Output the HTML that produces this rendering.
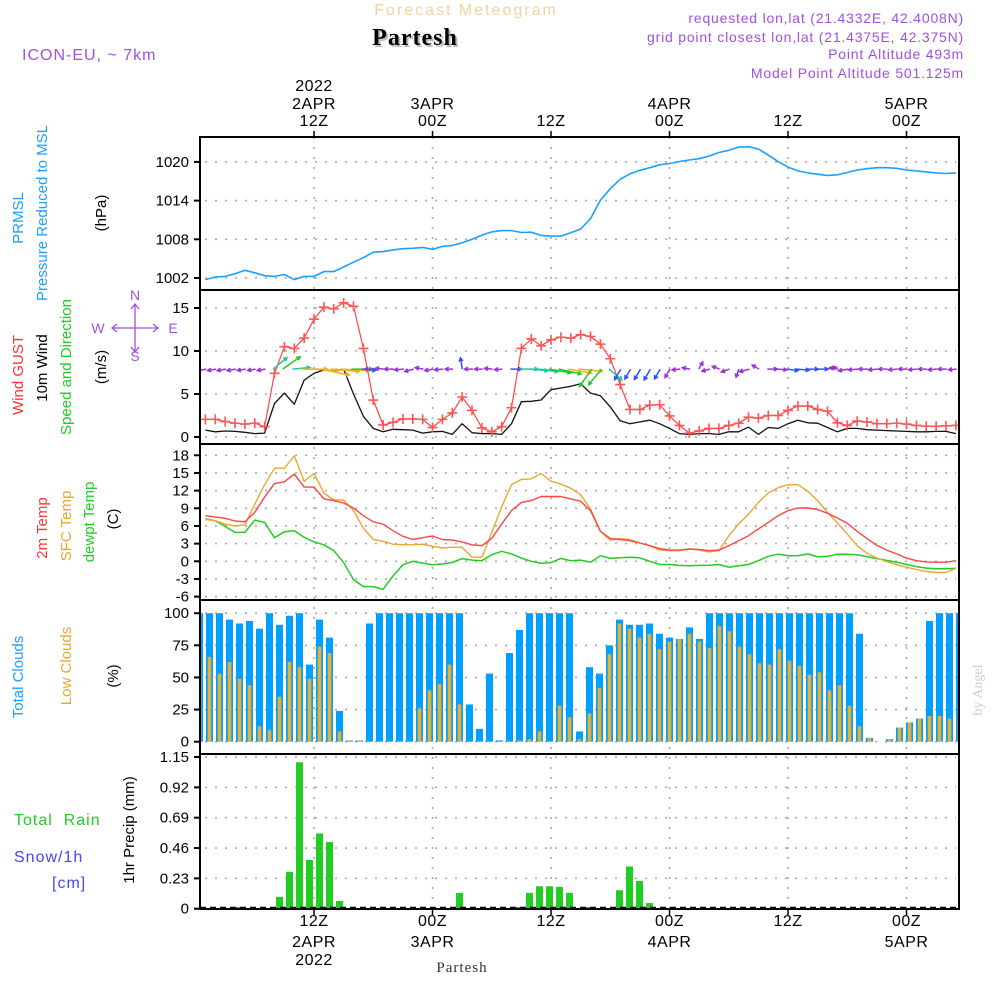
<!DOCTYPE html>
<html><head><meta charset="utf-8"><title>Forecast Meteogram - Partesh</title>
<style>
html,body{margin:0;padding:0;background:#fff;}
svg{display:block;font-family:"Liberation Sans",sans-serif;}
.pre{white-space:pre;}
</style></head>
<body>
<svg id="chart" width="1000" height="1000" viewBox="0 0 1000 1000" xmlns="http://www.w3.org/2000/svg">
<rect width="1000" height="1000" fill="#fff"/>
<text x="466" y="15" text-anchor="middle" font-size="16" fill="#f3d2a0" letter-spacing="2">Forecast Meteogram</text>
<text x="417" y="47" text-anchor="middle" font-family="Liberation Serif,serif" font-weight="bold" font-size="24" fill="#bbb" letter-spacing="1">Partesh</text>
<text x="415" y="45" text-anchor="middle" font-family="Liberation Serif,serif" font-weight="bold" font-size="24" fill="#000" letter-spacing="1">Partesh</text>
<text x="22" y="60" font-size="16" fill="#a050e0" letter-spacing="1">ICON-EU, ~ 7km</text>
<g fill="#a050e0" font-size="14" text-anchor="end" letter-spacing="0.8">
<text x="964" y="23">requested lon,lat (21.4332E, 42.4008N)</text>
<text x="964" y="42">grid point closest lon,lat (21.4375E, 42.375N)</text>
<text x="964" y="59">Point Altitude 493m</text>
<text x="964" y="78">Model Point Altitude 501.125m</text>
</g>
<text transform="translate(982,690) rotate(-90)" text-anchor="middle" font-family="Liberation Serif,serif" font-size="14" fill="#ccc">by Angel</text>
<g fill="#a050e0" stroke="none" font-size="14" text-anchor="middle">
<text x="135" y="300">N</text>
<text x="135" y="361">S</text>
<text x="98" y="333">W</text>
<text x="173" y="333">E</text>
<path d="M135,304V352M112,328H158M131,309L135,304L139,309M131,347L135,352L139,347M117,324L112,328L117,332M153,324L158,328L153,332" stroke="#a050e0" stroke-width="1.3" fill="none" stroke-dasharray="none"/>
</g>
<g id="grid"></g>
<g id="marks"></g>
<g id="frames"></g>
<g id="labels"></g>
</svg>
<script>
// ---------- data (hourly, index 0 = 01Z 2APR) ----------
const topTimeLabels = [["2022","2APR","12Z"],["","3APR","00Z"],["","","12Z"],["","4APR","00Z"],["","","12Z"],["","5APR","00Z"]];
const bottomTimeLabels = [["12Z","2APR","2022"],["00Z","3APR",""],["12Z","",""],["00Z","4APR",""],["12Z","",""],["00Z","5APR",""]];
const timeLineHours = [11,23,35,47,59,71];
const pressureTicks = [1002,1008,1014,1020];
const windTicks = [0,5,10,15];
const tempTicks = [18,15,12,9,6,3,0,-3,-6];
const cloudTicks = [0,25,50,75,100];
const precipTicks = [0,0.23,0.46,0.69,0.92,1.15];
const precipTickLabels = ["0","0.23","0.46","0.69","0.92","1.15"];

const pressure = [1001.75,1002.15,1002.25,1002.65,1003.2,1002.8,1002.35,1002.25,1002.55,1001.75,1002.25,1002.25,1003.0,1003.0,1003.7,1004.45,1005.15,1006.0,1006.1,1006.35,1006.55,1006.6,1006.75,1006.45,1006.9,1007.05,1007.45,1008.0,1008.65,1009.15,1009.35,1009.35,1009.05,1009.1,1008.6,1008.5,1008.5,1009.0,1009.6,1011.2,1014.05,1015.85,1017.3,1018.15,1018.7,1019.1,1019.55,1019.75,1020.05,1020.3,1020.5,1020.9,1021.45,1021.8,1022.3,1022.35,1022.0,1021.05,1020.05,1019.2,1018.6,1018.3,1018.1,1017.9,1018.0,1018.35,1018.75,1018.95,1019.1,1019.1,1019.0,1018.75,1018.6,1018.45,1018.3,1018.2,1018.3];
const windGust = [2.05,2.05,1.8,1.6,1.5,1.6,1.2,7.4,10.5,10.3,11.5,13.7,15.1,14.9,15.6,15.2,10.3,4.3,1.4,1.7,2.1,2.1,2.05,1.1,2.05,2.8,4.65,3.1,1.05,0.6,1.2,3.4,10.3,11.4,10.6,11.3,11.6,11.5,11.9,11.7,10.8,9.1,6.1,3.2,3.2,3.7,3.75,2.45,1.35,0.45,0.7,1.0,1.0,1.35,1.6,2.3,2.2,2.5,2.5,3.1,3.6,3.6,3.2,3.0,1.65,1.35,1.85,1.75,1.55,1.55,1.6,1.5,1.35,1.25,1.25,1.3,1.35];
const windSpeed = [0.8,0.6,0.7,0.65,0.55,0.4,0.45,3.9,5.1,3.8,6.6,7.4,7.8,7.7,7.9,5.0,2.4,1.0,0.6,0.9,0.85,0.8,0.45,0.6,0.65,0.3,1.55,0.5,0.4,0.4,0.3,1.55,4.1,4.15,4.3,5.5,5.7,5.9,6.2,5.1,4.8,3.5,1.9,1.55,1.75,1.95,1.55,1.0,0.4,0.3,0.4,0.4,0.3,0.6,0.6,1.15,0.3,1.1,1.0,1.55,1.95,1.65,1.6,1.1,0.6,1.0,1.0,0.85,0.8,0.75,0.7,0.65,0.6,0.6,0.65,0.65,0.4];
const windDirTo = [190,190,190,190,190,190,190,40,35,5,0,-3,-12,-5,-3,0,-5,180,175,180,185,195,170,190,185,180,100,180,180,175,185,0,0,-5,-8,-10,-12,-10,-5,-125,-130,-40,-120,-120,-120,-120,-120,-120,185,170,60,195,160,200,250,195,150,0,-5,-8,-5,0,0,10,170,190,185,180,185,180,185,180,185,180,185,180,185];
const temp2m = [7.75,7.5,7.3,6.85,6.7,8.3,10.9,13.2,13.5,14.8,12.6,12.6,10.6,10.3,9.9,9.05,7.75,6.7,6.3,5.2,4.25,3.7,4.0,4.3,3.7,3.6,3.3,2.8,2.65,3.9,6.3,8.6,10.0,10.3,11.0,11.0,11.0,10.6,10.2,8.6,5.1,3.85,3.7,3.5,3.1,2.65,2.15,1.9,1.9,2.1,2.0,1.8,1.9,2.65,3.5,4.35,5.5,6.6,7.75,8.6,9.05,9.05,8.8,8.15,7.35,6.45,5.1,3.85,2.7,1.9,1.25,0.55,0.1,-0.1,-0.15,-0.15,0.1];
const tempSfc = [7.1,6.9,6.3,6.0,6.2,9.7,13.0,15.8,15.8,17.9,13.6,14.9,11.6,10.4,10.4,8.6,5.6,3.7,3.4,2.9,2.8,2.8,2.9,2.55,2.25,2.4,2.4,0.7,0.7,4.9,9.2,13.0,13.9,14.0,14.9,13.6,13.1,12.4,11.3,8.9,5.1,3.6,3.85,3.7,3.1,2.65,1.9,1.8,1.8,2.1,1.9,1.6,1.8,4.35,6.35,8.0,10.0,11.6,12.5,13.0,13.0,11.9,10.3,8.3,6.5,4.65,2.65,1.35,0.55,-0.05,-0.6,-1.0,-1.4,-1.75,-1.9,-1.9,-1.2];
const dewpoint = [7.2,6.9,5.9,4.9,4.9,7.0,6.6,4.0,5.0,5.2,4.1,3.3,2.8,1.8,-0.2,-3.1,-4.3,-4.3,-4.75,-2.5,-0.6,0,-0.3,-0.6,-0.45,-0.2,0.45,0.2,0.1,1.1,1.7,1.25,0.55,0,-0.35,-0.2,0.5,0.1,0.2,-0.15,0.95,0.5,0.6,0.7,0.6,0,-0.55,-0.55,-0.7,-0.75,-0.7,-0.7,-0.55,-1.0,-0.75,-0.55,0.1,0.85,1.2,0.95,0.95,1.25,0.75,0.85,1.2,1.2,1.1,0.8,0.45,0.15,-0.15,-0.55,-0.9,-1.15,-1.25,-1.25,-1.2];
const totalClouds = [100,100,100,95,92,94,88,100,91,98,100,60,95,81,24,1,1,92,100,100,100,100,100,100,100,100,100,29,10,53,1,69,87,100,100,100,100,100,8,58,53,75,95,91,91,92,84,81,80,89,80,100,100,100,100,100,100,100,100,100,100,100,100,100,100,100,84,3,0,2,11,15,18,94,100,100,100];
const lowClouds = [61,66,53,62,49,44,12,9,35,62,58,49,74,69,8,1,1,0,0,0,0,0,26,40,45,60,29,0,0,0,0,0,1,2,8,0,28,19,2,22,42,68,92,88,81,84,72,78,80,84,78,73,90,86,74,68,61,60,72,63,59,52,54,40,44,28,12,3,0,2,11,15,18,20,20,18,17];
const precip = [0,0,0,0,0.013,0,0,0,0.09,0.28,1.11,0.37,0.57,0.505,0.058,0,0,0,0,0,0,0,0,0,0,0,0.12,0,0,0,0,0,0.013,0.12,0.17,0.17,0.165,0.12,0,0.013,0,0,0.14,0.32,0.21,0.043,0,0,0,0,0,0,0,0,0,0,0,0,0,0,0,0,0,0,0,0,0,0,0,0,0,0,0,0,0,0,0];

// ---------- scales ----------
const X0=200, X1=959;
const xL = i => 205.4 + 9.875*i;
const xB = i => 199.5 + 10*i;
const yP = v => 278 - (v-1002)*6.45;
const yW = v => 437 - v*8.6;
const yT = v => 561.3 - v*5.89;
const yC = v => 741.7 - v*1.285;
const yR = v => 908.7 - v*131.9;

const NS="http://www.w3.org/2000/svg";
function mk(tag, attrs, parent, txt){
  const e=document.createElementNS(NS,tag);
  for(const k in attrs) e.setAttribute(k,attrs[k]);
  if(txt!==undefined) e.textContent=txt;
  parent.appendChild(e); return e;
}
const grid=document.getElementById('grid'), marks=document.getElementById('marks'),
      frames=document.getElementById('frames'), labels=document.getElementById('labels');

const defs=mk('defs',{},document.getElementById('chart'));
const cp=mk('clipPath',{id:'plotclip'},defs);
mk('rect',{x:X0,y:130,width:X1-X0,height:790},cp);
marks.setAttribute('clip-path','url(#plotclip)');

// ---------- grid ----------
const dash={stroke:'#a8a8a8','stroke-width':1.6,'stroke-dasharray':'2,8',fill:'none'};
timeLineHours.forEach(h=>{
  const x=xL(h);
  const gl=mk('line',Object.assign({x1:x,x2:x,y1:137,y2:909},dash),grid);
  
  
});
function hgrid(vals, yf, name){
  vals.forEach(v=>{
    const l=mk('line',Object.assign({x1:X0+5,x2:X1-3,y1:yf(v),y2:yf(v)},dash),grid);
    
    
  });
}
hgrid(pressureTicks,yP,'pressure-gridline');
hgrid(windTicks,yW,'wind-gridline');
hgrid(tempTicks,yT,'temp-gridline');
hgrid(cloudTicks,yC,'cloud-gridline');
hgrid(precipTicks.slice(1),yR,'precip-gridline');

// ---------- y tick labels ----------
function yticks(vals, yf, name, texts){
  vals.forEach((v,k)=>{
    const y=yf(v);
    const tk=mk('line',{x1:194,x2:200,y1:y,y2:y,stroke:'#000','stroke-width':2},frames);
    
    
    const t=mk('text',{x:189,y:y+5,'text-anchor':'end','font-size':15,fill:'#000'},labels,texts?texts[k]:String(v));
    
    
  });
}
yticks(pressureTicks,yP,'pressure');
yticks(windTicks,yW,'wind');
yticks(tempTicks,yT,'temp');
yticks(cloudTicks,yC,'cloud');
yticks(precipTicks,yR,'precip',precipTickLabels);

// ---------- cloud bars ----------
totalClouds.forEach((v,i)=>{
  const x=xB(i);
  if(v>0){
    const b=mk('rect',{x:x-3.5,y:yC(v),width:7,height:yC(0)-yC(v),fill:'#00a0ff'},marks);
    
    
  }
  const lv=lowClouds[i];
  if(lv>0){
    const o=mk('rect',{x:x-1.8,y:yC(lv),width:3.6,height:yC(0)-yC(lv),fill:'#e8b030'},marks);
    
    
  }
});
// ---------- precip bars ----------
precip.forEach((v,i)=>{
  if(v<=0) return;
  const b=mk('rect',{x:xB(i)-3.5,y:yR(v),width:7,height:yR(0)-yR(v),fill:'#22cc22'},marks);
  
  
});
const zl=mk('line',{x1:X0,x2:X1,y1:yR(0)-1,y2:yR(0)-1,stroke:'#000','stroke-width':2,'stroke-dasharray':'6,4'},marks);



// ---------- lines ----------
function line(arr, yf, color, name, w){
  const pts=arr.map((v,i)=>xL(i).toFixed(1)+','+yf(v).toFixed(1)).join(' ');
  const p=mk('polyline',{points:pts,fill:'none',stroke:color,'stroke-width':w||1.4,'stroke-linejoin':'round'},marks);
  
  
}
line(pressure,yP,'#1aa0ff','pressure-line',1.6);
line(windSpeed,yW,'#111','wind-speed-line',1.3);
line(windGust,yW,'#ff4444','wind-gust-line',1.2);
windGust.forEach((v,i)=>{
  const x=xL(i), y=yW(v);
  const g=mk('path',{d:`M${x-5},${y}H${x+5}M${x},${y-5}V${y+5}`,stroke:'#ff5555','stroke-width':1.6,fill:'none'},marks);
  
  
});
line(dewpoint,yT,'#22cc22','dewpoint-line',1.5);
line(tempSfc,yT,'#e8a830','sfc-temp-line',1.4);
line(temp2m,yT,'#ff4444','temp-2m-line',1.4);

// ---------- wind direction arrows ----------
function arrowColor(s){
  if(s<1.2) return '#9a30e0';
  if(s<2.5) return '#3050ff';
  if(s<4.5) return '#20c8a0';
  if(s<5.8) return '#22cc22';
  return '#f0b020';
}
windDirTo.forEach((d,i)=>{
  const s=windSpeed[i];
  const L=7+s*2.8;
  const a=d*Math.PI/180;
  const x0=xL(i)-(L/2)*Math.cos(a)*0.2, y0=yW(7.9);
  const x1=x0+L*Math.cos(a), y1=y0-L*Math.sin(a);
  const hl=4;
  const ha1=a+Math.PI-0.5, ha2=a+Math.PI+0.5;
  const d1=`M${x0.toFixed(1)},${y0.toFixed(1)}L${x1.toFixed(1)},${y1.toFixed(1)}M${(x1+hl*Math.cos(ha1)).toFixed(1)},${(y1-hl*Math.sin(ha1)).toFixed(1)}L${x1.toFixed(1)},${y1.toFixed(1)}L${(x1+hl*Math.cos(ha2)).toFixed(1)},${(y1-hl*Math.sin(ha2)).toFixed(1)}`;
  const ar=mk('path',{d:d1,stroke:arrowColor(s),'stroke-width':1.5,fill:'none'},marks);
  
  
});

// ---------- frames ----------
const box=mk('rect',{x:X0,y:137,width:X1-X0,height:909-137,fill:'none',stroke:'#000','stroke-width':2},frames);


[290,444,600,754].forEach(y=>{
  const l=mk('line',{x1:X0,x2:X1,y1:y,y2:y,stroke:'#000','stroke-width':2},frames);
  
  
});
timeLineHours.forEach(h=>{
  const x=xL(h);
  const a=mk('line',{x1:x,x2:x,y1:131,y2:137,stroke:'#000','stroke-width':1.5},frames);
  
  
  const b=mk('line',{x1:x,x2:x,y1:909,y2:915,stroke:'#000','stroke-width':1.5},frames);
  
  
});

// ---------- time labels ----------
timeLineHours.forEach((h,k)=>{
  const x=xL(h);
  [91,109,126].forEach((y,r)=>{
    const s=topTimeLabels[k][r]; if(!s) return;
    const t=mk('text',{x:x,y:y,'text-anchor':'middle','font-size':16,fill:'#000','letter-spacing':0.5},labels,s);
    
    
  });
  [926,947,965].forEach((y,r)=>{
    const s=bottomTimeLabels[k][r]; if(!s) return;
    const t=mk('text',{x:x,y:y,'text-anchor':'middle','font-size':16,fill:'#000','letter-spacing':0.5},labels,s);
    
    
  });
});
const bl=mk('text',{x:462,y:972,'text-anchor':'middle','font-family':'Liberation Serif,serif','font-size':15,fill:'#333','letter-spacing':1},labels,'Partesh');



// ---------- axis titles ----------
function vtext(x,y,s,color,name,size){
  const t=mk('text',{transform:`translate(${x},${y}) rotate(-90)`,'text-anchor':'middle','font-size':size||15,fill:color},labels,s);
  
  
}
vtext(23,218,'PRMSL','#1aa0ff','pressure-title-prmsl');
vtext(47,213,'Pressure Reduced to MSL','#1aa0ff','pressure-title');
vtext(106,213,'(hPa)','#000','pressure-unit');
vtext(23,375,'Wind GUST','#ff3333','wind-gust-title');
vtext(47,368,'10m Wind','#000','wind-title');
vtext(71,367,'Speed and Direction','#22cc22','wind-direction-title');
vtext(106,367,'(m/s)','#000','wind-unit');
vtext(47,528,'2m Temp','#ff3333','temp-2m-title');
vtext(71,526,'SFC Temp','#e8a830','sfc-temp-title');
vtext(94,522,'dewpt Temp','#22cc22','dewpoint-title');
vtext(118,519,'(C)','#000','temp-unit');
vtext(23,677,'Total Clouds','#1aa0ff','total-clouds-title');
vtext(71,666,'Low Clouds','#e8a830','low-clouds-title');
vtext(118,676,'(%)','#000','cloud-unit');
vtext(134,830,'1hr Precip (mm)','#000','precip-title');
const r1=mk('text',{x:14,y:825,'font-size':16,fill:'#22cc22','letter-spacing':1,'class':'pre'},labels,'Total  Rain');


const r2=mk('text',{x:14,y:862,'font-size':16,fill:'#4444ff','letter-spacing':1},labels,'Snow/1h');


const r3=mk('text',{x:52,y:888,'font-size':16,fill:'#4444ff','letter-spacing':1},labels,'[cm]');


</script>
</body></html>
